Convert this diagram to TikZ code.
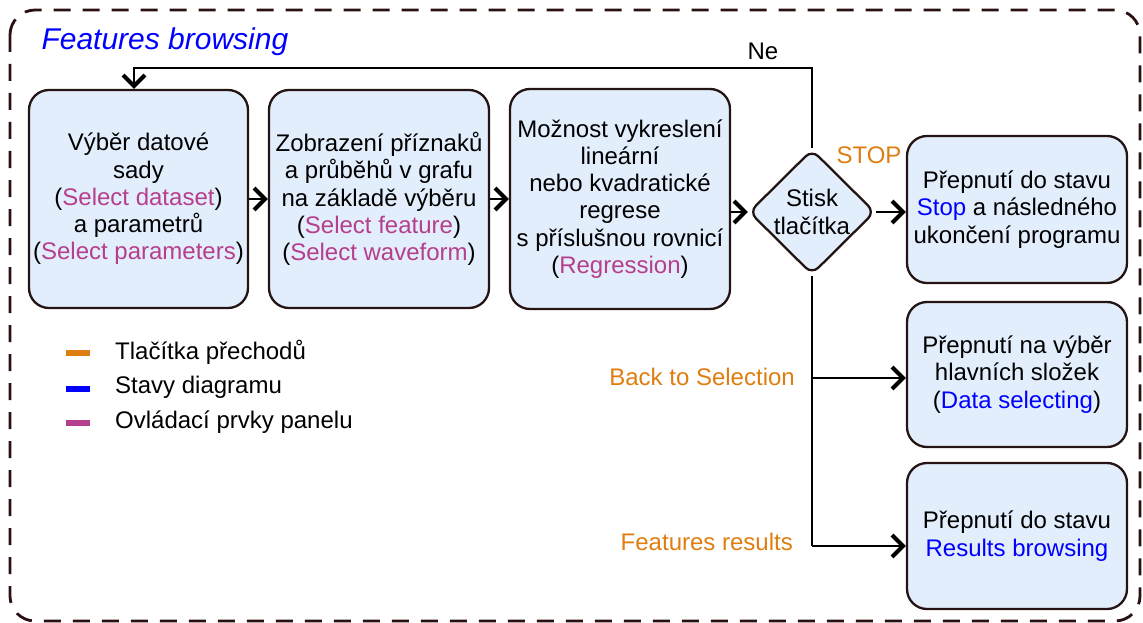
\documentclass[tikz,border=0pt]{standalone}
\usepackage{fontspec}
\setmainfont{Liberation Sans}
\usetikzlibrary{shapes.geometric,arrows.meta}
\definecolor{boxfill}{HTML}{E3EEFC}
\definecolor{boxline}{HTML}{241414}
\definecolor{frameline}{HTML}{2A1010}
\definecolor{tlorange}{RGB}{224,125,16}
\definecolor{stblue}{RGB}{0,0,255}
\definecolor{ctpurple}{RGB}{181,62,141}
\newcommand{\ctl}[1]{\textcolor{ctpurple}{#1}}
\newcommand{\stv}[1]{\textcolor{stblue}{#1}}
\tikzset{
  txt/.style={font=\fontsize{24}{27.3}\selectfont},
  procbox/.style={txt, draw=boxline, fill=boxfill, line width=2.3pt, rounded corners=20pt,
    align=center, inner sep=1pt, minimum width=220pt},
  decision/.style={txt, draw=boxline, fill=boxfill, line width=2.3pt, diamond, aspect=1,
    rounded corners=9pt, align=center, inner sep=0pt, minimum width=126pt, minimum height=125pt},
  conn/.style={line width=2.8pt, black, -{Straight Barb[length=11pt,width=22pt,line width=4pt]}},
  plain/.style={line width=2.8pt, black},
  lbl/.style={txt, text=tlorange},
  legendline/.style={line width=6pt}
}
\begin{document}
\begin{tikzpicture}[x=1pt,y=-1pt]
\useasboundingbox (0,0) rectangle (1143,623);
% outer frame
\draw[frameline, line width=2.8pt, dash pattern=on 17pt off 12pt, rounded corners=25pt]
  (10,10) rectangle (1140,621);
\node[anchor=base west, text=stblue, font=\fontsize{30}{34}\selectfont\itshape] (title) at (38,50) {Features browsing};

% main boxes
\node[procbox, minimum height=218pt, minimum width=219pt] (b1) at (138.5,199)
  {Výběr datové\\sady\\(\ctl{Select dataset})\\a parametrů\\(\ctl{Select parameters})};
\node[procbox, minimum height=218pt] (b2) at (379,199)
  {Zobrazení příznaků\\a průběhů v grafu\\na základě výběru\\(\ctl{Select feature})\\(\ctl{Select waveform})};
\node[procbox, minimum height=220pt] (b3) at (620,199)
  {Možnost vykreslení\\lineární\\nebo kvadratické\\regrese\\s příslušnou rovnicí\\(\ctl{Regression})};
\node[decision] (d) at (812,212) {Stisk\\tlačítka};

\node[procbox, minimum height=147pt] (b4) at (1017,209.5)
  {Přepnutí do stavu\\\stv{Stop} a následného\\ukončení programu};
\node[procbox, minimum height=145pt] (b5) at (1017,374.5)
  {Přepnutí na výběr\\hlavních složek\\(\stv{Data selecting})};
\node[procbox, minimum height=146pt] (b6) at (1017,536)
  {Přepnutí do stavu\\\stv{Results browsing}};

% connectors
\draw[conn] (b1.east) -- (b2.west);
\draw[conn] (b2.east) -- (b3.west);
\draw[conn] (b3.east |- d.west) -- (d.west);
\draw[conn] (d.east) -- (d.east -| b4.west);

\coordinate (loopr) at (812,68);
\coordinate (loopl) at (134,68);
\draw[conn] (d.north) -- (loopr) -- (loopl) -- (loopl |- b1.north);
\node[txt, anchor=base] (ne) at (763,60) {Ne};

\coordinate (br5) at (812,378);
\coordinate (br6) at (812,546);
\draw[plain] (d.south) -- (br6);
\draw[conn] (br5) -- (br5 -| b5.west);
\draw[conn] (br6) -- (br6 -| b6.west);

% transition labels
\node[lbl, anchor=center] (lstop) at (869,155) {STOP};
\node[lbl, anchor=east, inner sep=0pt] (lback) at (795,377) {Back to Selection};
\node[lbl, anchor=east, inner sep=0pt] (lfeat) at (793,542) {Features results};

% legend
\draw[legendline, tlorange] (66,353) -- (90,353);
\draw[legendline, stblue] (66,389) -- (90,389);
\draw[legendline, ctpurple] (66,423) -- (90,423);
\node[txt, anchor=west, inner sep=0pt] (leg1) at (115,352) {Tlačítka přechodů};
\node[txt, anchor=west, inner sep=0pt] (leg2) at (115,387) {Stavy diagramu};
\node[txt, anchor=west, inner sep=0pt] (leg3) at (115,422) {Ovládací prvky panelu};
\end{tikzpicture}
\end{document}
